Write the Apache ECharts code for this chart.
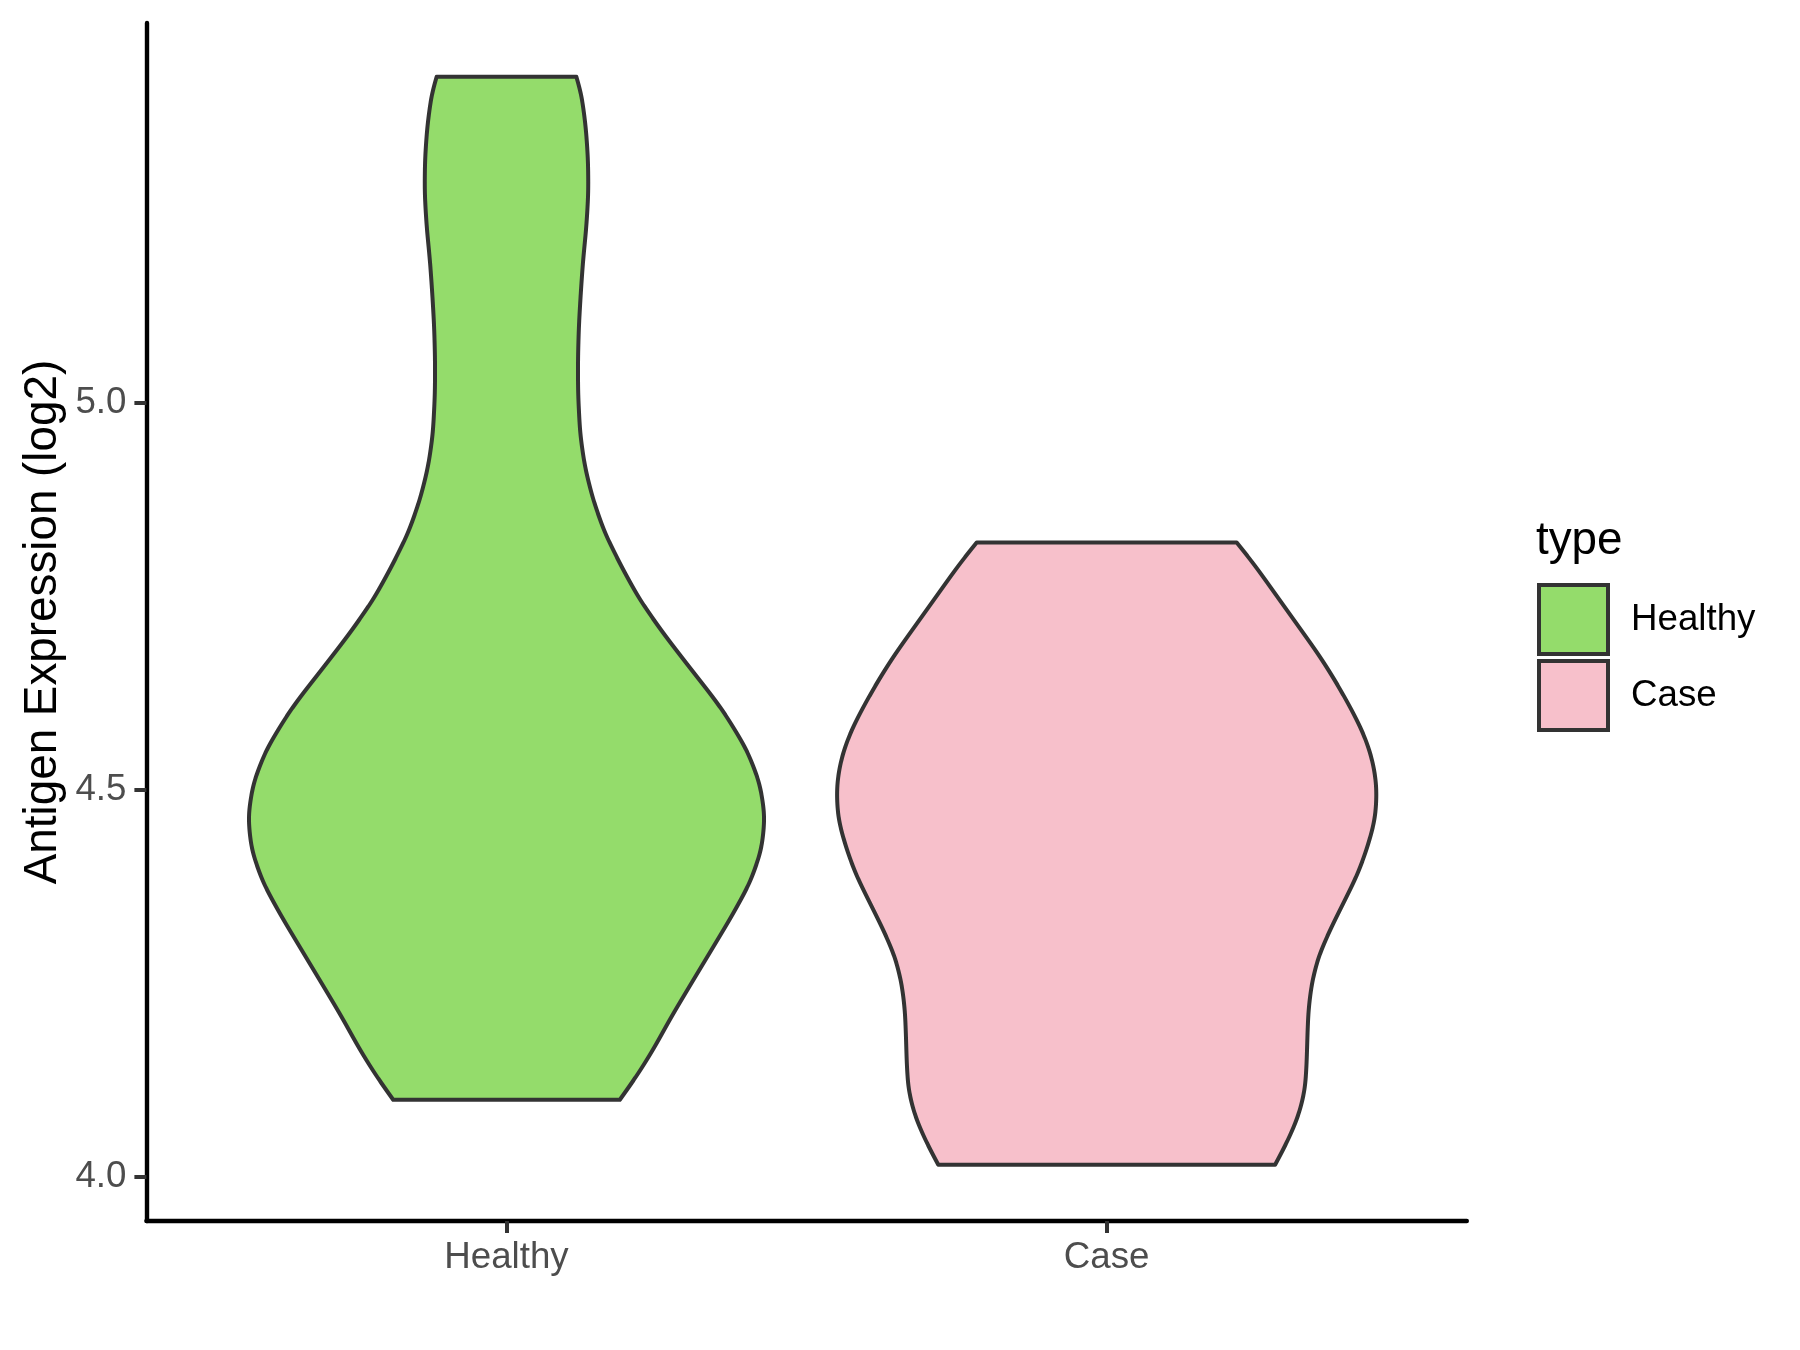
<!DOCTYPE html>
<html>
<head>
<meta charset="utf-8">
<script src="https://cdn.jsdelivr.net/npm/echarts@6/dist/echarts.min.js"></script>
<style>
html,body{margin:0;padding:0;background:#fff;}
#chart{width:1800px;height:1350px;}
</style>
</head>
<body>
<div id="chart"></div>
<script>
// ---- data ----
const categories = ['Healthy', 'Case'];
const yTicks = [4.0, 4.5, 5.0];
// density outline of each violin: value (log2) and half-width (in category units)
const healthyValues = [4.0995, 4.1296, 4.1641, 4.2071, 4.2503, 4.2933, 4.3363, 4.3795, 4.4225, 4.4655, 4.5087, 4.5517, 4.5948, 4.6163, 4.6593, 4.7025, 4.7455, 4.7885, 4.8317, 4.8747, 4.9177, 4.9609, 5.0125, 5.0556, 5.0986, 5.1417, 5.1848, 5.2278, 5.2709, 5.3140, 5.3570, 5.4001, 5.4216];
const healthyHalfWidths = [0.1888, 0.2165, 0.2443, 0.2749, 0.3082, 0.3416, 0.3749, 0.4056, 0.4250, 0.4307, 0.4221, 0.4006, 0.3670, 0.3476, 0.3040, 0.2610, 0.2221, 0.1915, 0.1638, 0.1443, 0.1304, 0.1225, 0.1192, 0.1190, 0.1205, 0.1237, 0.1276, 0.1331, 0.1364, 0.1359, 0.1321, 0.1247, 0.1164];
const caseValues = [4.0155, 4.0435, 4.0779, 4.1124, 4.1469, 4.1813, 4.2158, 4.2503, 4.2846, 4.3191, 4.3536, 4.3880, 4.4225, 4.4612, 4.4913, 4.5129, 4.5430, 4.5733, 4.6034, 4.6379, 4.6722, 4.7025, 4.7326, 4.7627, 4.7929, 4.8195];
const caseHalfWidths = [0.2806, 0.2999, 0.3194, 0.3306, 0.3332, 0.3344, 0.3361, 0.3416, 0.3527, 0.3722, 0.3944, 0.4165, 0.4332, 0.4472, 0.4499, 0.4489, 0.4415, 0.4277, 0.4082, 0.3832, 0.3555, 0.3277, 0.2999, 0.2722, 0.2444, 0.2166];
const yMin = 3.9428, yMax = 5.4910;

const violins = [
  {name: 'Healthy', values: healthyValues, hw: healthyHalfWidths, color: '#94DC6B'},
  {name: 'Case', values: caseValues, hw: caseHalfWidths, color: '#F7C0CB'}
];

const FONT = '"Liberation Sans", Arial, Helvetica, sans-serif';

// Outline drawn as a smooth curve: piecewise-linear through the read points,
// resampled evenly along the value axis, then gaussian-smoothed (odd reflection keeps ends).
function smoothOutline(values, hws, N, sigma) {
  const m = values.length, vmin = values[0], vmax = values[m - 1];
  const vs = [], hs = [];
  let j = 0;
  for (let k = 0; k <= N; k++) {
    const v = vmin + (vmax - vmin) * k / N;
    while (j < m - 2 && values[j + 1] < v) j++;
    const t = Math.min(1, Math.max(0, (v - values[j]) / (values[j + 1] - values[j])));
    vs.push(v);
    hs.push(hws[j] + t * (hws[j + 1] - hws[j]));
  }
  const n = hs.length, R = Math.ceil(sigma * 3);
  const get = k => {
    if (k < 0) return 2 * hs[0] - hs[Math.min(-k, n - 1)];
    if (k >= n) return 2 * hs[n - 1] - hs[Math.max(2 * (n - 1) - k, 0)];
    return hs[k];
  };
  const sm = hs.map((h, i) => {
    let s = 0, w = 0;
    for (let k = -R; k <= R; k++) {
      const wk = Math.exp(-(k * k) / (2 * sigma * sigma));
      s += wk * get(i + k); w += wk;
    }
    return s / w;
  });
  return {vs: vs, hs: sm};
}

function makeSeries(v, idx) {
  return {
    name: v.name,
    type: 'custom',
    coordinateSystem: 'cartesian2d',
    itemStyle: {color: v.color, borderColor: '#333333', borderWidth: 4},
    data: [[idx + 1]],
    renderItem: function (params, api) {
      const c = api.value(0);
      const pBot = api.coord([c, v.values[0]]);
      const pTop = api.coord([c, v.values[v.values.length - 1]]);
      const N = Math.max(10, Math.round(Math.abs(pBot[1] - pTop[1])));
      const o = smoothOutline(v.values, v.hw, N, 10);
      const right = o.vs.map((y, i) => api.coord([c + o.hs[i], y]));
      const left = o.vs.map((y, i) => api.coord([c - o.hs[i], y])).reverse();
      return {
        type: 'polygon',
        shape: {points: right.concat(left)},
        style: {fill: v.color, stroke: '#333333', lineWidth: 4, lineJoin: 'round'}
      };
    }
  };
}

const chart = echarts.init(document.getElementById('chart'), null, {renderer: 'canvas'});
chart.setOption({
  animation: false,
  backgroundColor: '#ffffff',
  grid: {left: 146.4, top: 23, width: 1320.4, height: 1198, containLabel: false},
  xAxis: {
    type: 'value', min: 0.4, max: 2.6,
    splitLine: {show: false},
    axisLine: {show: true, onZero: false, lineStyle: {color: '#000000', width: 4.4}},
    axisTick: {show: true, customValues: [1, 2], length: 12, lineStyle: {color: '#333333', width: 4}},
    axisLabel: {
      show: true, customValues: [1, 2], margin: 18,
      formatter: v => categories[Math.round(v) - 1],
      color: '#4D4D4D', fontSize: 36.7, fontFamily: FONT
    }
  },
  yAxis: {
    type: 'value', min: yMin, max: yMax,
    splitLine: {show: false},
    axisLine: {show: true, onZero: false, lineStyle: {color: '#000000', width: 4.4}},
    axisTick: {show: true, customValues: yTicks, length: 12, lineStyle: {color: '#333333', width: 4}},
    axisLabel: {
      show: true, customValues: yTicks, margin: 20,
      formatter: v => Number(v).toFixed(1),
      color: '#4D4D4D', fontSize: 36.7, fontFamily: FONT
    }
  },
  legend: {
    orient: 'vertical', left: 1537, top: 583, padding: 0,
    itemWidth: 69, itemHeight: 69, itemGap: 3,
    icon: 'rect',
    itemStyle: {borderColor: '#333333', borderWidth: 4},
    textStyle: {color: '#000000', fontSize: 36.7, fontFamily: FONT, padding: [0, 0, 0, 18]},
    data: categories
  },
  graphic: [
    {type: 'text', x: 43, y: 622, rotation: Math.PI / 2,
     style: {text: 'Antigen Expression (log2)', fill: '#000000', font: '45.8px ' + FONT, textAlign: 'center', textVerticalAlign: 'middle'}},
    {type: 'text', x: 1536, y: 541,
     style: {text: 'type', fill: '#000000', font: '45.8px ' + FONT, textAlign: 'left', textVerticalAlign: 'middle'}}
  ],
  series: violins.map(makeSeries)
});
</script>
</body>
</html>
